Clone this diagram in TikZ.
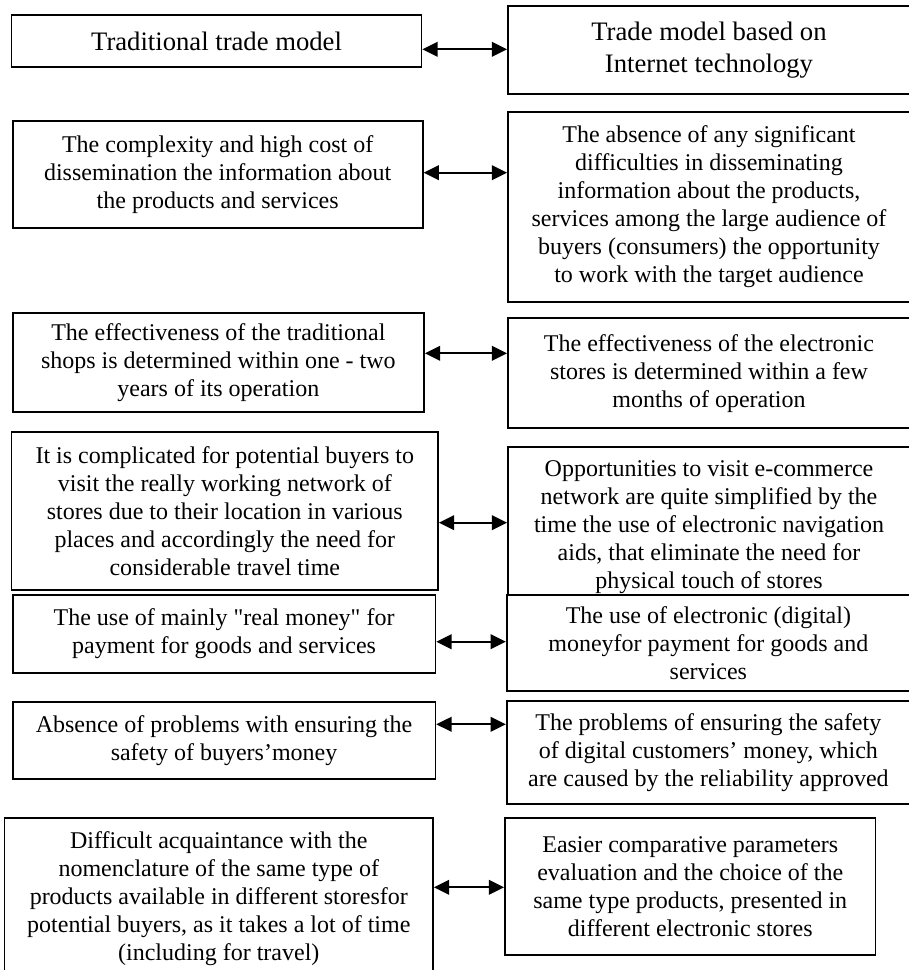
\documentclass[tikz,border=0pt]{standalone}
\usepackage{fontspec}
\setmainfont{Liberation Serif}
\usetikzlibrary{arrows.meta}
\begin{document}
\begin{tikzpicture}[x=0.75pt,y=-0.75pt]
\tikzstyle{cell}=[draw,line width=1.3pt,fill=white,align=center,inner sep=0pt,font=\fontsize{18pt}{21pt}\selectfont]
\tikzstyle{head}=[font=\fontsize{20pt}{24pt}\selectfont]
\tikzset{boxsize/.style 2 args={minimum width=#1*0.75pt,minimum height=#2*0.75pt}}
\tikzstyle{link}=[line width=1.5pt,{Triangle[length=11.5pt,width=11pt]}-{Triangle[length=11.5pt,width=11pt]}]
\useasboundingbox[fill=white] (0,0) rectangle (908,970);
\node[cell,head,boxsize={409.9}{51.4}] (t1) at (216.55,41) {Traditional trade model};
\node[cell,head,boxsize={402}{88}] (e1) at (709,50) {Trade model based on\\Internet technology};
\node[cell,boxsize={410}{107.3}] (t2) at (217.7,174.35) {The complexity and high cost of\\dissemination the information about\\the products and services};
\node[cell,boxsize={402}{190}] (e2) at (709,207) {The absence of any significant\\difficulties in disseminating\\information about the products,\\services among the large audience of\\buyers (consumers) the opportunity\\to work with the target audience};
\node[cell,boxsize={411.3}{99}] (t3) at (218.35,362.8) {The effectiveness of the traditional\\shops is determined within one - two\\years of its operation};
\node[cell,boxsize={402}{110.3}] (e3) at (709,373.15) {The effectiveness of the electronic\\stores is determined within a few\\months of operation};
\node[cell,boxsize={426.4}{157.7}] (t4) at (224.8,511.15) {It is complicated for potential buyers to\\visit the really working network of\\stores due to their location in various\\places and accordingly the need for\\considerable travel time};
\node[cell,boxsize={402}{160.6}] (e4) at (709,527) {Opportunities to visit e-commerce\\network are quite simplified by the\\time the use of electronic navigation\\aids, that eliminate the need for\\physical touch of stores};
\node[cell,boxsize={422.7}{77.7}] (t5) at (224.05,633.85) {The use of mainly \textquotedbl real money\textquotedbl{} for\\payment for goods and services};
\node[cell,boxsize={403.3}{95.7}] (e5) at (708.35,642.85) {The use of electronic (digital)\\moneyfor payment for goods and\\services};
\node[cell,boxsize={422.7}{77.6}] (t6) at (224.05,740.5) {Absence of problems with ensuring the\\safety of buyers’money};
\node[cell,boxsize={403.3}{103.3}] (e6) at (708.35,752.65) {The problems of ensuring the safety\\of digital customers’ money, which\\are caused by the reliability approved};
\node[cell,boxsize={428.4}{161.3}] (t7) at (218.8,898.35) {Difficult acquaintance with the\\nomenclature of the same type of\\products available in different storesfor\\potential buyers, as it takes a lot of time\\(including for travel)};
\node[cell,boxsize={370.5}{137.3}] (e7) at (690.25,886.35) {Easier comparative parameters\\evaluation and the choice of the\\same type products, presented in\\different electronic stores};
\coordinate (a1) at (465,49.3);
\coordinate (a2) at (465,172.7);
\coordinate (a3) at (465,353.3);
\coordinate (a4) at (472,522.7);
\coordinate (a5) at (472,641.7);
\coordinate (a6) at (470,724.3);
\coordinate (a7) at (469,887.3);
\draw[link] (t1.east |- a1) -- (e1.west |- a1);
\draw[link] (t2.east |- a2) -- (e2.west |- a2);
\draw[link] (t3.east |- a3) -- (e3.west |- a3);
\draw[link] (t4.east |- a4) -- (e4.west |- a4);
\draw[link] (t5.east |- a5) -- (e5.west |- a5);
\draw[link] (t6.east |- a6) -- (e6.west |- a6);
\draw[link] (t7.east |- a7) -- (e7.west |- a7);
\end{tikzpicture}
\end{document}
